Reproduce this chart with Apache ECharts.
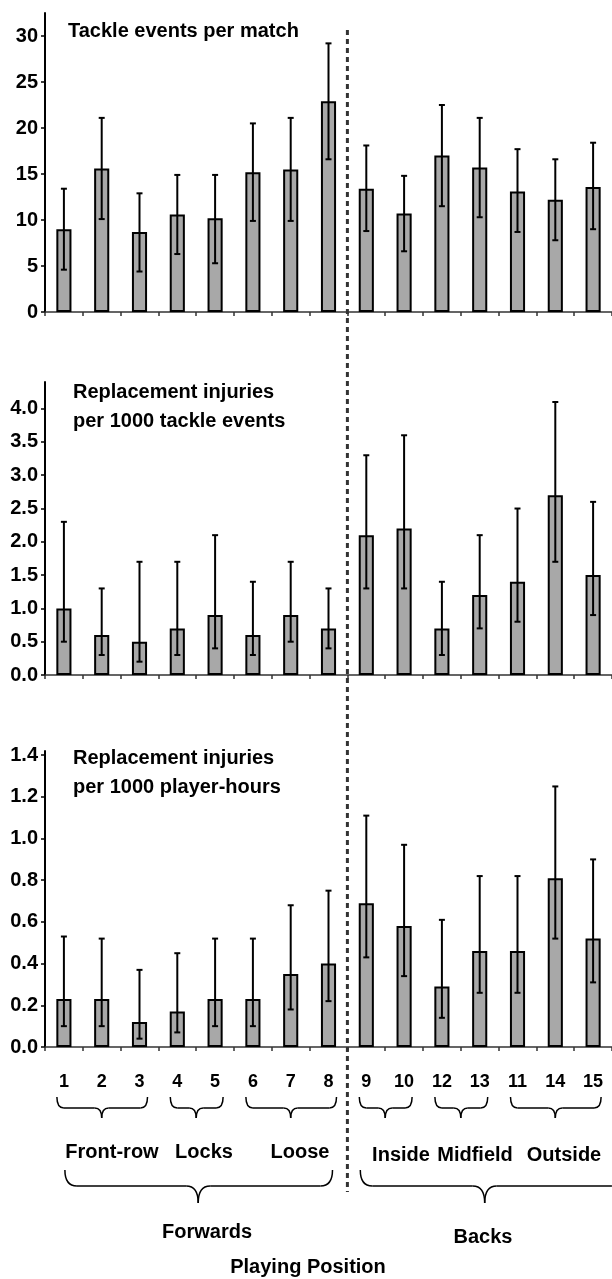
<!DOCTYPE html>
<html>
<head>
<meta charset="utf-8">
<title>Tackle events and replacement injuries by playing position</title>
<script src="https://cdn.jsdelivr.net/npm/echarts@6/dist/echarts.min.js"></script>
<style>
  html, body { margin: 0; padding: 0; background: #fff; }
  #chart { width: 612px; height: 1279px; }
</style>
</head>
<body>
<div id="chart"></div>
<script>
// playing positions, in the order they are plotted
var positions = ['1', '2', '3', '4', '5', '6', '7', '8', '9', '10', '12', '13', '11', '14', '15'];

// tackle events per match
var tackleMean = [9.0, 15.6, 8.7, 10.6, 10.2, 15.2, 15.5, 22.9, 13.4, 10.7, 17.0, 15.7, 13.1, 12.2, 13.6];
var tackleLow  = [4.6, 10.1, 4.4, 6.3, 5.3, 9.9, 9.9, 16.6, 8.8, 6.6, 11.5, 10.3, 8.7, 7.8, 9.0];
var tackleHigh = [13.4, 21.1, 12.9, 14.9, 14.9, 20.5, 21.1, 29.2, 18.1, 14.8, 22.5, 21.1, 17.7, 16.6, 18.4];

// replacement injuries per 1000 tackle events
var injTackleMean = [1.0, 0.6, 0.5, 0.7, 0.9, 0.6, 0.9, 0.7, 2.1, 2.2, 0.7, 1.2, 1.4, 2.7, 1.5];
var injTackleLow  = [0.5, 0.3, 0.2, 0.3, 0.4, 0.3, 0.5, 0.4, 1.3, 1.3, 0.3, 0.7, 0.8, 1.7, 0.9];
var injTackleHigh = [2.3, 1.3, 1.7, 1.7, 2.1, 1.4, 1.7, 1.3, 3.3, 3.6, 1.4, 2.1, 2.5, 4.1, 2.6];

// replacement injuries per 1000 player-hours
var injHourMean = [0.23, 0.23, 0.12, 0.17, 0.23, 0.23, 0.35, 0.40, 0.69, 0.58, 0.29, 0.46, 0.46, 0.81, 0.52];
var injHourLow  = [0.10, 0.10, 0.04, 0.07, 0.10, 0.10, 0.18, 0.22, 0.43, 0.34, 0.14, 0.26, 0.26, 0.52, 0.31];
var injHourHigh = [0.53, 0.52, 0.37, 0.45, 0.52, 0.52, 0.68, 0.75, 1.11, 0.97, 0.61, 0.82, 0.82, 1.25, 0.90];

// y tick labels
var tackleTicks = [0, 5, 10, 15, 20, 25, 30];
var injTackleTicks = [0, 0.5, 1.0, 1.5, 2.0, 2.5, 3.0, 3.5, 4.0];
var injHourTicks = [0, 0.2, 0.4, 0.6, 0.8, 1.0, 1.2, 1.4];

// groups of positions (first and last index)
var subGroups = [['Front-row', 0, 2], ['Locks', 3, 4], ['Loose', 5, 7],
                 ['Inside', 8, 9], ['Midfield', 10, 11], ['Outside', 12, 14]];
var mainGroups = [['Forwards', 0, 7], ['Backs', 8, 14]];

var FONT = '"Liberation Sans", Arial, sans-serif';

var panels = [
  { title: 'Tackle events per match', mean: tackleMean, low: tackleLow, high: tackleHigh,
    ticks: tackleTicks, max: 32.5, dec: 0, top: 13, height: 299, tLeft: 63, tTop: 12 },
  { title: 'Replacement injuries\nper 1000 tackle events', mean: injTackleMean, low: injTackleLow, high: injTackleHigh,
    ticks: injTackleTicks, max: 4.4, dec: 1, top: 382, height: 293, tLeft: 68, tTop: 373 },
  { title: 'Replacement injuries\nper 1000 player-hours', mean: injHourMean, low: injHourLow, high: injHourHigh,
    ticks: injHourTicks, max: 1.42, dec: 1, top: 751, height: 296, tLeft: 68, tTop: 739 }
];

function errorBar(params, api) {
  var x = api.value(0);
  var lo = api.coord([x, api.value(1)]);
  var hi = api.coord([x, api.value(2)]);
  var cap = 3;
  var st = { stroke: '#000', lineWidth: 2 };
  return {
    type: 'group',
    children: [
      { type: 'line', shape: { x1: lo[0], y1: lo[1], x2: hi[0], y2: hi[1] }, style: st },
      { type: 'line', shape: { x1: hi[0] - cap, y1: hi[1], x2: hi[0] + cap, y2: hi[1] }, style: st },
      { type: 'line', shape: { x1: lo[0] - cap, y1: lo[1], x2: lo[0] + cap, y2: lo[1] }, style: st }
    ]
  };
}

var grids = [], xAxes = [], yAxes = [], series = [], titles = [];
panels.forEach(function (p, k) {
  grids.push({ left: 45, right: 0, top: p.top, height: p.height });
  titles.push({
    text: p.title, left: p.tLeft, top: p.tTop,
    textStyle: { fontFamily: FONT, fontSize: 20, fontWeight: 'bold', color: '#000', lineHeight: 29 }
  });
  xAxes.push({
    type: 'category', gridIndex: k, data: positions,
    axisLine: { lineStyle: { color: '#333', width: 1.5 } },
    axisTick: { show: true, length: 4, lineStyle: { color: '#333', width: 1.5 } },
    axisLabel: {
      show: k === 2, interval: 0, margin: 26, color: '#000',
      fontFamily: FONT, fontSize: 18, fontWeight: 'bold'
    },
    splitLine: { show: false }
  });
  yAxes.push({
    type: 'value', gridIndex: k, min: 0, max: p.max,
    axisLine: { show: true, lineStyle: { color: '#000', width: 2 } },
    axisTick: { show: true, length: 4, customValues: p.ticks, lineStyle: { color: '#000', width: 1.5 } },
    axisLabel: {
      customValues: p.ticks, margin: 7, color: '#000',
      fontFamily: FONT, fontSize: 20, fontWeight: 'bold',
      formatter: function (v) { return v.toFixed(p.dec); }
    },
    splitLine: { show: false }
  });
  series.push({
    type: 'bar', xAxisIndex: k, yAxisIndex: k, data: p.mean,
    barWidth: '40%',
    itemStyle: { color: '#a8a8a8', borderColor: '#000', borderWidth: 2 },
    silent: true
  });
  series.push({
    type: 'custom', xAxisIndex: k, yAxisIndex: k, z: 5,
    renderItem: errorBar,
    encode: { x: 0, y: [1, 2] },
    data: positions.map(function (c, i) { return [i, p.low[i], p.high[i]]; }),
    silent: true
  });
});

var chart = echarts.init(document.getElementById('chart'), null, { renderer: 'canvas' });
chart.setOption({
  animation: false,
  backgroundColor: '#fff',
  title: titles,
  grid: grids,
  xAxis: xAxes,
  yAxis: yAxes,
  series: series
});

// annotations below the chart: dashed divider, braces and group labels
function px(i) { return chart.convertToPixel({ xAxisIndex: 2 }, i); }

function brace(x1, x2, xm, top, mid, tip, r) {
  var st = { stroke: '#000', lineWidth: 1.5, fill: null };
  return {
    type: 'group',
    children: [
      { type: 'bezierCurve', shape: { x1: x1, y1: top, x2: x1 + r, y2: mid, cpx1: x1, cpy1: mid }, style: st },
      { type: 'line', shape: { x1: x1 + r, y1: mid, x2: xm - r, y2: mid }, style: st },
      { type: 'bezierCurve', shape: { x1: xm - r, y1: mid, x2: xm, y2: tip, cpx1: xm, cpy1: mid }, style: st },
      { type: 'bezierCurve', shape: { x1: xm, y1: tip, x2: xm + r, y2: mid, cpx1: xm, cpy1: mid }, style: st },
      { type: 'line', shape: { x1: xm + r, y1: mid, x2: x2 - r, y2: mid }, style: st },
      { type: 'bezierCurve', shape: { x1: x2 - r, y1: mid, x2: x2, y2: top, cpx1: x2, cpy1: mid }, style: st }
    ]
  };
}

function label(text, x, y) {
  return {
    type: 'text', x: x, y: y,
    style: { text: text, align: 'center', verticalAlign: 'middle', fill: '#000',
             font: 'bold 20px ' + FONT }
  };
}

var elems = [];
var divX = (px(7) + px(8)) / 2;
elems.push({
  type: 'line', z: 100,
  shape: { x1: divX, y1: 30, x2: divX, y2: 1192 },
  style: { stroke: '#333', lineWidth: 3, lineDash: [5, 4] }
});

var subLabelX = [112, 204, 300, 401, 475, 564];
var subLabelY = [1152, 1152, 1152, 1155, 1155, 1155];
subGroups.forEach(function (g, j) {
  var a = px(g[1]) - 7, b = Math.min(px(g[2]) + 8, 610);
  elems.push(brace(a, b, (px(g[1]) + px(g[2])) / 2, 1097, 1108, 1118, 7));
  elems.push(label(g[0], subLabelX[j], subLabelY[j]));
});

var mainLabelX = [207, 483];
var mainLabelY = [1232, 1237];
var mainEnds = [[1, 4, 2], [-6, 30, 5]];   // offsets: left end, right end, tip
mainGroups.forEach(function (g, j) {
  var a = px(g[1]) + mainEnds[j][0], b = px(g[2]) + mainEnds[j][1];
  elems.push(brace(a, b, (px(g[1]) + px(g[2])) / 2 + mainEnds[j][2], 1170, 1186, 1203, 12));
  elems.push(label(g[0], mainLabelX[j], mainLabelY[j]));
});

elems.push(label('Playing Position', 308, 1267));

chart.setOption({ graphic: elems });
</script>
</body>
</html>
